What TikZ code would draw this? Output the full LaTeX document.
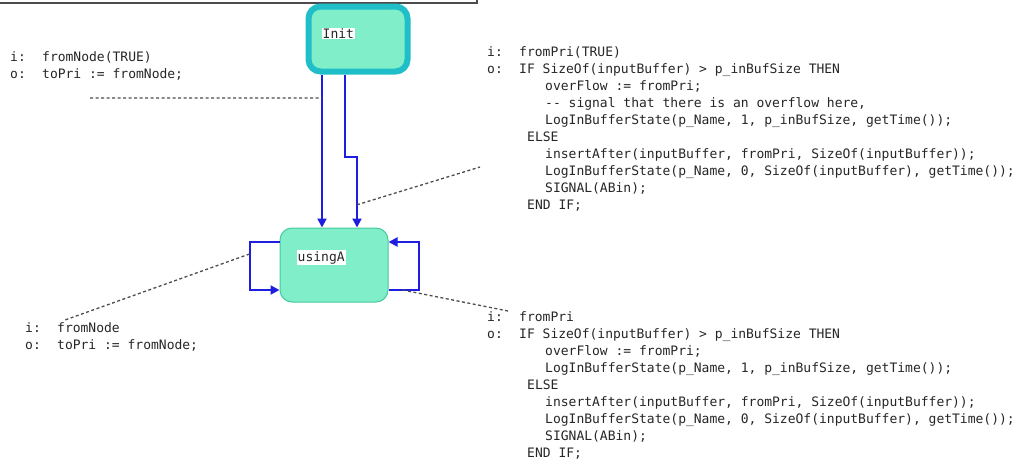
\documentclass[tikz,border=0pt]{standalone}
\usepackage{fontspec}
\usepackage{tikz}
\usetikzlibrary{arrows.meta,calc}
\newfontfamily\codefont{DejaVu Sans Mono}
\definecolor{mint}{RGB}{128,238,200}
\definecolor{statering}{RGB}{32,190,200}
\definecolor{stateedge}{RGB}{70,200,160}
\definecolor{transblue}{RGB}{30,30,225}
% i:/o: column and indents of the action text
\newcommand{\pfx}[1]{\makebox[32pt][l]{#1}}
\newcommand{\cel}{\hspace*{40pt}}
\newcommand{\cin}{\hspace*{58pt}}

\begin{document}
\begin{tikzpicture}[x=1pt,y=-1pt,
state/.style={rectangle, rounded corners=12pt, fill=mint, inner sep=0pt},
initstate/.style={state, draw=statering, line width=6pt, minimum width=99pt, minimum height=65pt},
plainstate/.style={state, draw=stateedge, line width=1pt, minimum width=108pt, minimum height=74pt},
tag/.style={fill=white, inner sep=1pt, anchor=west, font=\codefont\fontsize{13}{17}\selectfont, text=black!85},
trans/.style={draw=transblue, line width=2pt, -{Triangle[length=9pt,width=9pt]}},
note/.style={draw=black!70, line width=1.3pt, dash pattern=on 3pt off 2.5pt},
code/.style={anchor=north west, inner sep=0pt, align=left, font=\codefont\fontsize{13}{17}\selectfont, text=black!85},
]
\useasboundingbox (0,0) rectangle (1032,464);

% edge of the enclosing frame
\draw[line width=2pt, black!70] (0,3) -| (477,0);

% states
\node[initstate] (init) at (358,39) {};
\node[tag] (initname) at ([xshift=16pt,yshift=-30pt]init.north west) {Init};
\node[plainstate] (usingA) at (334,265) {};
\node[tag] (usingAname) at ([xshift=17pt,yshift=-30pt]usingA.north west) {usingA};

% transitions
\draw[trans] ([xshift=-36pt]init.south) -- coordinate[pos=0.153] (tA) ([xshift=-12pt]usingA.north);
\draw[trans] ([xshift=-13pt]init.south) -- ++(0,82) -| coordinate[pos=0.84] (tB) ([xshift=23pt]usingA.north);
\draw[trans] ([yshift=23pt]usingA.west) -- ++(-30,0) |- coordinate[pos=0.125] (tC) ([yshift=-25pt]usingA.west);
\draw[trans] ([yshift=-25pt]usingA.east) -- coordinate[pos=0.47] (tD) ++(30,0) |- ([yshift=23pt]usingA.east);

% guard/action texts
\node[code] (actA) at (10,51.5) {\pfx{i:}fromNode(TRUE)\\ \pfx{o:}toPri := fromNode;};
\node[code] (actB) at (487,46.5) {\pfx{i:}fromPri(TRUE)\\
\pfx{o:}IF SizeOf(inputBuffer) > p\_inBufSize THEN\\
\cin overFlow := fromPri;\\
\cin -{}- signal that there is an overflow here,\\
\cin LogInBufferState(p\_Name, 1, p\_inBufSize, getTime());\\
\cel ELSE\\
\cin insertAfter(inputBuffer, fromPri, SizeOf(inputBuffer));\\
\cin LogInBufferState(p\_Name, 0, SizeOf(inputBuffer), getTime());\\
\cin SIGNAL(ABin);\\
\cel END IF;};
\node[code] (actC) at (25,322.5) {\pfx{i:}fromNode\\ \pfx{o:}toPri := fromNode;};
\node[code] (actD) at (487,311.5) {\pfx{i:}fromPri\\
\pfx{o:}IF SizeOf(inputBuffer) > p\_inBufSize THEN\\
\cin overFlow := fromPri;\\
\cin LogInBufferState(p\_Name, 1, p\_inBufSize, getTime());\\
\cel ELSE\\
\cin insertAfter(inputBuffer, fromPri, SizeOf(inputBuffer));\\
\cin LogInBufferState(p\_Name, 0, SizeOf(inputBuffer), getTime());\\
\cin SIGNAL(ABin);\\
\cel END IF;};

% dotted leaders from the texts to their transitions
\coordinate (nA) at (90,98);
\coordinate (nB) at (480,167);
\coordinate (nC) at (65,320);
\coordinate (nD) at (508,311);
\draw[note] (nA) -- (tA);
\draw[note] (tB) -- (nB);
\draw[note] (tC) -- (nC);
\draw[note] (tD) -- (nD);
\end{tikzpicture}
\end{document}
